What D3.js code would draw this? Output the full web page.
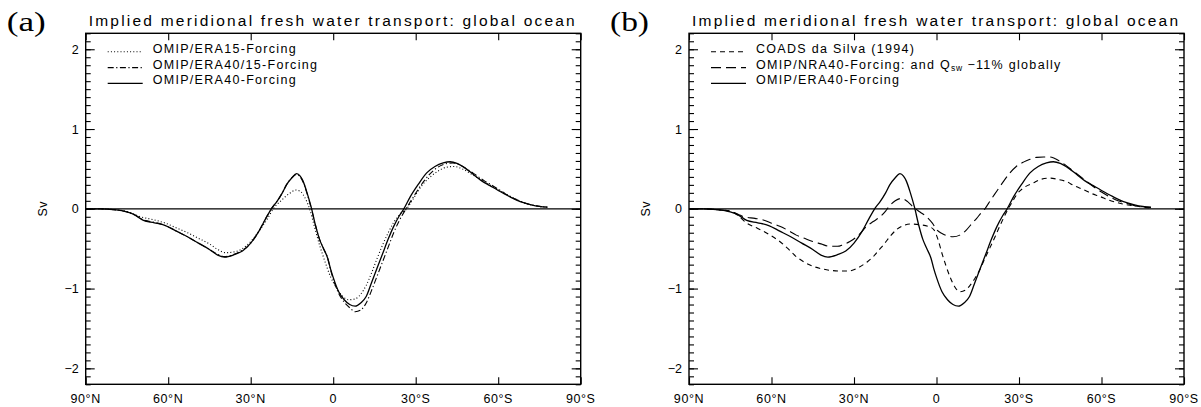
<!DOCTYPE html>
<html>
<head>
<meta charset="utf-8">
<script src="https://cdn.jsdelivr.net/npm/d3@7/dist/d3.min.js"></script>
<style>
  html, body { margin: 0; padding: 0; background: #fff; }
  svg { display: block; }
  .sans { font-family: "Liberation Sans", Arial, Helvetica, sans-serif; fill: #000; }
  .serif { font-family: "Liberation Serif", "DejaVu Serif", serif; fill: #000; }
</style>
</head>
<body>
<svg id="chart" width="1201" height="407"></svg>
<script>
// Implied meridional fresh water transport (Sv) against latitude (positive = north)

// OMIP / ERA40 forcing (solid, drawn in both panels)
const latERA40 = [90,85,80,75,72,69,65,61,57,53,49,45,42,39.5,36,33,30,27,24.5,22.5,20.5,18.5,17,15,13.3,12,11,9.5,8,6.5,5,3.5,2,1,0,-2,-4,-6,-8,-10,-12,-14,-16,-18,-20,-22,-24,-25.7,-28,-31,-34,-37,-40,-42.5,-45,-48,-51,-54,-57,-60,-64,-68,-72,-75,-78];
const sfwERA40 = [0,0,-0.01,-0.04,-0.08,-0.146,-0.175,-0.21,-0.28,-0.35,-0.43,-0.51,-0.58,-0.605,-0.575,-0.53,-0.43,-0.28,-0.12,0,0.09,0.2,0.3,0.39,0.44,0.41,0.35,0.2,0.02,-0.2,-0.38,-0.5,-0.62,-0.75,-0.86,-1.04,-1.14,-1.2,-1.22,-1.18,-1.1,-0.92,-0.74,-0.56,-0.38,-0.22,-0.09,0,0.15,0.31,0.45,0.53,0.575,0.59,0.57,0.51,0.43,0.35,0.29,0.23,0.155,0.09,0.05,0.03,0.02];

// OMIP / ERA15 forcing (dotted)
const latERA15 = [90,85,80,75,70,65,61,57,53,49,45,42,39,36,33,30,27,24,21.8,19,16,13.5,12,10,8.5,7,5,3,1,-1,-3,-5.5,-8,-10,-12,-14,-16,-18,-20,-22,-24.5,-26.7,-29,-32,-35,-38,-41,-44,-47,-50,-54,-58,-62,-66,-70,-74,-78];
const sfwERA15 = [0,0,-0.01,-0.035,-0.1,-0.14,-0.18,-0.24,-0.3,-0.37,-0.44,-0.51,-0.55,-0.54,-0.5,-0.41,-0.28,-0.13,0,0.1,0.19,0.235,0.22,0.12,-0.01,-0.2,-0.45,-0.66,-0.85,-0.98,-1.08,-1.14,-1.13,-1.07,-0.96,-0.8,-0.62,-0.45,-0.3,-0.17,-0.06,0,0.12,0.28,0.39,0.47,0.52,0.53,0.5,0.44,0.36,0.28,0.2,0.13,0.07,0.035,0.02];

// OMIP / ERA40/15 forcing (dash-dot)
const latERA4015 = [90,85,80,75,72,69,65,61,57,53,49,45,42,39.5,36,33,30,27,24.5,22.5,20.5,18.5,17,15,13.3,12,11,9.5,8,6.5,5,3.5,2,1,0,-2,-4,-6,-8,-10,-12,-14,-16,-18,-20,-22,-24,-26.5,-29,-32,-35,-38,-41,-43.5,-46,-49,-52,-55,-58,-61,-64,-68,-72,-75,-78];
const sfwERA4015 = [0,0,-0.01,-0.04,-0.08,-0.14,-0.17,-0.21,-0.28,-0.35,-0.43,-0.51,-0.57,-0.6,-0.57,-0.52,-0.43,-0.28,-0.12,0,0.09,0.2,0.3,0.39,0.43,0.4,0.34,0.19,0.01,-0.2,-0.38,-0.5,-0.62,-0.76,-0.88,-1.06,-1.17,-1.24,-1.29,-1.27,-1.18,-1.02,-0.84,-0.66,-0.48,-0.3,-0.15,0,0.14,0.3,0.43,0.52,0.565,0.575,0.55,0.49,0.42,0.35,0.29,0.225,0.16,0.095,0.05,0.03,0.02];

// COADS da Silva (1994) (short dashes)
const latCOADS = [90,85,80,75,72,69,66,63,60,57,54,51,48,45,42,39,35,32,28,25,23,21,19,16.5,14.5,12,9.5,6,3,1,-0.5,-2,-3.5,-5,-6.5,-8.5,-10.5,-12.2,-14,-15.8,-17.5,-19.4,-21.3,-23.1,-24.6,-26.1,-27.8,-29.2,-32,-35,-38,-41.3,-44,-47.3,-50,-53.4,-56.5,-59.4,-62.5,-65.5,-68.5,-71.5,-75,-78];
const sfwCOADS = [0,0,-0.01,-0.03,-0.09,-0.18,-0.23,-0.28,-0.34,-0.41,-0.5,-0.6,-0.67,-0.72,-0.75,-0.77,-0.78,-0.78,-0.73,-0.66,-0.6,-0.52,-0.44,-0.33,-0.26,-0.21,-0.19,-0.2,-0.22,-0.26,-0.38,-0.56,-0.72,-0.86,-0.97,-1.04,-1.02,-0.96,-0.87,-0.76,-0.63,-0.49,-0.35,-0.21,-0.1,0,0.1,0.18,0.27,0.32,0.37,0.385,0.37,0.34,0.29,0.24,0.19,0.155,0.11,0.08,0.055,0.04,0.02,0.01];

// OMIP / NRA40 forcing with Qsw -11% globally (long dashes)
const latNRA40 = [90,85,80,75,72,70,66,63,60,57,54,51,48,45,42,39,36,34,31.5,29,27,25.4,23,20.5,18.5,17,15,12.7,10.5,8.4,6,3.6,1.5,0,-2,-4,-6,-8.5,-11,-13,-14.6,-16,-17.6,-19.7,-21.9,-24.3,-26.7,-29,-31.6,-34,-36.4,-39,-41.3,-43,-44.9,-48,-51,-54,-57,-60,-63,-66,-69,-72,-75,-78];
const sfwNRA40 = [0,0,-0.01,-0.03,-0.07,-0.1,-0.12,-0.14,-0.18,-0.22,-0.27,-0.33,-0.37,-0.41,-0.44,-0.47,-0.47,-0.45,-0.41,-0.35,-0.28,-0.22,-0.16,-0.1,-0.03,0.04,0.1,0.13,0.09,0.02,-0.04,-0.1,-0.18,-0.26,-0.31,-0.34,-0.35,-0.33,-0.26,-0.18,-0.12,-0.06,0,0.11,0.22,0.34,0.45,0.53,0.585,0.62,0.645,0.65,0.65,0.63,0.595,0.52,0.44,0.36,0.28,0.21,0.15,0.1,0.07,0.04,0.025,0.015];

// Axis ticks and labels
const xTickValues = [90, 60, 30, 0, -30, -60, -90];
const xTickLabels = ["90°N", "60°N", "30°N", "0", "30°S", "60°S", "90°S"];
const yMajorTicks = [-2, -1, 0, 1, 2];
const yTickLabels = ["\u22122", "\u22121", "0", "1", "2"];
const yMinorTicks = d3.range(-22, 23).map(d => d / 10);

const titleText = "Implied meridional fresh water transport: global ocean";

const zip = (lat, v) => lat.map((d, i) => ({ lat: d, v: v[i] }));

const panels = [
  {
    tag: "(a)", left: 85.7,
    series: [
      { name: "OMIP/ERA15-Forcing", data: zip(latERA15, sfwERA15), dash: "1,2.2", width: 1.1 },
      { name: "OMIP/ERA40/15-Forcing", data: zip(latERA4015, sfwERA4015), dash: "6,2.5,1.2,2.5", width: 1.1 },
      { name: "OMIP/ERA40-Forcing", data: zip(latERA40, sfwERA40), dash: null, width: 1.3 }
    ]
  },
  {
    tag: "(b)", left: 689,
    series: [
      { name: "COADS da Silva (1994)", data: zip(latCOADS, sfwCOADS), dash: "5,4", width: 1.1 },
      { name: "NRA40", data: zip(latNRA40, sfwNRA40), dash: "10,5", width: 1.1, qsw: true },
      { name: "OMIP/ERA40-Forcing", data: zip(latERA40, sfwERA40), dash: null, width: 1.3 }
    ]
  }
];

const plotW = 495, plotTop = 33.3, plotBottom = 384.3;
const svg = d3.select("#chart");

panels.forEach(p => {
  const L = p.left, R = p.left + plotW;
  const x = d3.scaleLinear().domain([90, -90]).range([L, R]);
  const y = d3.scaleLinear().domain([-2.2, 2.2]).range([plotBottom, plotTop]);
  const g = svg.append("g");

  // panel tag
  g.append("text").attr("class", "serif")
    .attr("x", L - 79).attr("y", 31)
    .attr("font-size", 28).attr("textLength", 39).attr("lengthAdjust", "spacingAndGlyphs")
    .text(p.tag);

  // title
  g.append("text").attr("class", "sans")
    .attr("x", L + 3).attr("y", 25.5)
    .attr("font-size", 15.5)
    .attr("textLength", 486).attr("lengthAdjust", "spacing")
    .text(titleText);

  // zero line
  g.append("line")
    .attr("x1", x(90)).attr("x2", x(-90))
    .attr("y1", y(0)).attr("y2", y(0))
    .attr("stroke", "#000").attr("stroke-width", 1.3);

  // axes: ticks pointing inward on all four sides
  const axB = d3.axisBottom(x).tickValues(xTickValues).tickSize(-7).tickFormat("");
  const axT = d3.axisTop(x).tickValues(xTickValues).tickSize(-7).tickFormat("");
  const axLmin = d3.axisLeft(y).tickValues(yMinorTicks).tickSize(-5).tickFormat("");
  const axLmaj = d3.axisLeft(y).tickValues(yMajorTicks).tickSize(-9).tickFormat("");
  const axRmin = d3.axisRight(y).tickValues(yMinorTicks).tickSize(-5).tickFormat("");
  const axRmaj = d3.axisRight(y).tickValues(yMajorTicks).tickSize(-9).tickFormat("");

  const put = (ax, tx, ty) => {
    const a = g.append("g").attr("transform", `translate(${tx},${ty})`).call(ax);
    a.select(".domain").remove();
    a.selectAll(".tick line").attr("stroke", "#000").attr("stroke-width", 1.1);
  };
  put(axB, 0, plotBottom);
  put(axT, 0, plotTop);
  put(axLmin, L, 0);
  put(axLmaj, L, 0);
  put(axRmin, R, 0);
  put(axRmaj, R, 0);

  // frame
  g.append("rect")
    .attr("x", L).attr("y", plotTop).attr("width", plotW).attr("height", plotBottom - plotTop)
    .attr("fill", "none").attr("stroke", "#000").attr("stroke-width", 1.4);

  // tick labels
  g.selectAll(".xl").data(xTickValues).enter().append("text")
    .attr("class", "sans")
    .attr("x", d => x(d)).attr("y", 403)
    .attr("text-anchor", "middle").attr("font-size", 12.5)
    .attr("letter-spacing", 0.6)
    .text((d, i) => xTickLabels[i]);

  g.selectAll(".yl").data(yMajorTicks).enter().append("text")
    .attr("class", "sans")
    .attr("x", L - 7).attr("y", d => y(d) + 4.5)
    .attr("text-anchor", "end").attr("font-size", 12.5)
    .text((d, i) => yTickLabels[i]);

  g.append("text").attr("class", "sans")
    .attr("transform", `translate(${L - 39},${y(0)}) rotate(-90)`)
    .attr("text-anchor", "middle").attr("font-size", 12.5)
    .attr("letter-spacing", 0.5)
    .text("Sv");

  // curves
  const line = d3.line()
    .x(d => x(d.lat)).y(d => y(d.v))
    .curve(d3.curveMonotoneX);

  p.series.forEach(s => {
    g.append("path")
      .datum(s.data)
      .attr("d", line)
      .attr("fill", "none").attr("stroke", "#000")
      .attr("stroke-width", s.width)
      .attr("stroke-dasharray", s.dash);
  });

  // legend
  p.series.forEach((s, i) => {
    const base = 52.8 + i * 15.8;
    g.append("line")
      .attr("x1", L + 22).attr("x2", L + 57)
      .attr("y1", base - 1).attr("y2", base - 1)
      .attr("stroke", "#000").attr("stroke-width", s.width)
      .attr("stroke-dasharray", s.dash);
    const t = g.append("text").attr("class", "sans")
      .attr("x", L + 67).attr("y", base)
      .attr("font-size", 12.5).attr("letter-spacing", 1.3);
    if (s.qsw) {
      t.append("tspan").text("OMIP/NRA40-Forcing: and Q");
      t.append("tspan").attr("font-size", 8.5).attr("dy", 2.5).attr("letter-spacing", 0.6).text("sw");
      t.append("tspan").attr("dy", -2.5).text(" \u221211% globally");
    } else {
      t.text(s.name);
    }
  });
});
</script>
</body>
</html>
